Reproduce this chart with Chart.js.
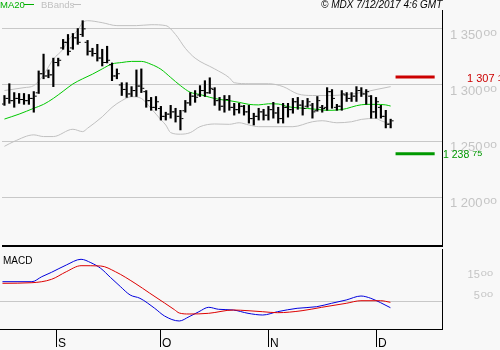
<!DOCTYPE html>
<html>
<head>
<meta charset="utf-8">
<title>MDX daily chart</title>
<script src="https://cdn.jsdelivr.net/npm/chart.js@4.4.1/dist/chart.umd.min.js"></script>
<style>
	html, body { margin: 0; padding: 0; background: #f8f8f8; }
	#mdx-chart { position: relative; width: 500px; height: 350px; overflow: hidden; background: #f8f8f8; }
	#mdx-chart canvas { position: absolute; left: 0; }
	#mdx-price { top: 0; }
	#mdx-macd { top: 249px; }
</style>
</head>
<body>
<div id="mdx-chart">
	<canvas id="mdx-price" width="500" height="249"></canvas>
	<canvas id="mdx-macd" width="500" height="101"></canvas>
</div>
<script>
/**
 * Daily OHLC chart with MA20, Bollinger bands and MACD.
 * One entry per session, 17 Aug 2017 -> 6 Dec 2017.
 */
var highs = [
	1.2906, 1.3011, 1.2932, 1.2924, 1.2924, 1.2915, 1.2941, 1.3125, 1.3275, 1.3134,
	1.3239, 1.3239, 1.3406, 1.3450, 1.3459, 1.3503, 1.3573, 1.3397, 1.3327, 1.3362,
	1.3318, 1.3345, 1.3196, 1.3143, 1.3020, 1.3020, 1.2985, 1.3134, 1.3143, 1.2950,
	1.2889, 1.2897, 1.2809, 1.2757, 1.2818, 1.2792, 1.2774, 1.2862, 1.2932, 1.2950,
	1.2994, 1.3038, 1.3064, 1.2976, 1.2889, 1.2906, 1.2906, 1.2836, 1.2836, 1.2818,
	1.2818, 1.2748, 1.2792, 1.2783, 1.2809, 1.2845, 1.2801, 1.2836, 1.2836, 1.2880,
	1.2889, 1.2862, 1.2880, 1.2836, 1.2897, 1.2818, 1.2976, 1.2959, 1.2827, 1.2950,
	1.2932, 1.2932, 1.2985, 1.2976, 1.2959, 1.2906, 1.2889, 1.2818, 1.2774, 1.2695
];
var lows = [
	1.2818, 1.2836, 1.2801, 1.2836, 1.2827, 1.2827, 1.2757, 1.2924, 1.3055, 1.3064,
	1.2985, 1.3169, 1.3318, 1.3266, 1.3318, 1.3362, 1.3432, 1.3266, 1.3257, 1.3213,
	1.3169, 1.3196, 1.3038, 1.3055, 1.2906, 1.2889, 1.2897, 1.2897, 1.2932, 1.2801,
	1.2774, 1.2774, 1.2687, 1.2687, 1.2704, 1.2669, 1.2599, 1.2757, 1.2818, 1.2845,
	1.2897, 1.2897, 1.2924, 1.2818, 1.2774, 1.2757, 1.2774, 1.2731, 1.2748, 1.2731,
	1.2660, 1.2643, 1.2687, 1.2687, 1.2687, 1.2704, 1.2660, 1.2660, 1.2713, 1.2748,
	1.2783, 1.2731, 1.2801, 1.2704, 1.2766, 1.2757, 1.2774, 1.2792, 1.2774, 1.2774,
	1.2853, 1.2853, 1.2853, 1.2897, 1.2827, 1.2704, 1.2704, 1.2704, 1.2617, 1.2617
];
var opens = [
	1.2830, 1.2880, 1.2860, 1.2880, 1.2870, 1.2860, 1.2880, 1.2930, 1.3100, 1.3080,
	1.3090, 1.3200, 1.3330, 1.3380, 1.3330, 1.3420, 1.3450, 1.3380, 1.3300, 1.3280,
	1.3240, 1.3200, 1.3180, 1.3080, 1.3000, 1.2960, 1.2920, 1.2950, 1.2990, 1.2940,
	1.2860, 1.2800, 1.2790, 1.2720, 1.2740, 1.2760, 1.2720, 1.2770, 1.2840, 1.2900,
	1.2910, 1.2950, 1.2930, 1.2960, 1.2860, 1.2810, 1.2870, 1.2800, 1.2780, 1.2810,
	1.2760, 1.2700, 1.2720, 1.2760, 1.2730, 1.2780, 1.2750, 1.2700, 1.2800, 1.2780,
	1.2850, 1.2820, 1.2810, 1.2820, 1.2770, 1.2800, 1.2800, 1.2940, 1.2800, 1.2810,
	1.2910, 1.2880, 1.2900, 1.2950, 1.2920, 1.2900, 1.2760, 1.2800, 1.2720, 1.2650
];
var closes = [
	1.2880, 1.2860, 1.2880, 1.2870, 1.2860, 1.2880, 1.2900, 1.3100, 1.3080, 1.3090,
	1.3200, 1.3220, 1.3380, 1.3300, 1.3420, 1.3380, 1.3500, 1.3300, 1.3280, 1.3240,
	1.3200, 1.3220, 1.3080, 1.3100, 1.2960, 1.2920, 1.2950, 1.2990, 1.2970, 1.2860,
	1.2800, 1.2850, 1.2720, 1.2740, 1.2760, 1.2720, 1.2700, 1.2840, 1.2900, 1.2890,
	1.2950, 1.2930, 1.2970, 1.2860, 1.2810, 1.2870, 1.2800, 1.2780, 1.2810, 1.2760,
	1.2700, 1.2720, 1.2760, 1.2730, 1.2780, 1.2750, 1.2700, 1.2800, 1.2780, 1.2850,
	1.2820, 1.2790, 1.2850, 1.2760, 1.2860, 1.2790, 1.2940, 1.2880, 1.2810, 1.2920,
	1.2880, 1.2900, 1.2950, 1.2920, 1.2940, 1.2760, 1.2850, 1.2720, 1.2650, 1.2680
];

// [session, value] pairs
var ma20 = [
	[0, 1.2696], [3, 1.2740], [6, 1.2792], [8, 1.2827], [10, 1.2880], [12, 1.2944],
	[14, 1.3009], [16, 1.3055], [18, 1.3096], [20, 1.3143], [22, 1.3187], [24, 1.3200],
	[26, 1.3210], [28, 1.3210], [30, 1.3184], [32, 1.3140], [34, 1.3067], [36, 1.2994],
	[38, 1.2935], [40, 1.2915], [42, 1.2890], [44, 1.2871], [46, 1.2860], [48, 1.2845],
	[50, 1.2827], [52, 1.2822], [54, 1.2832], [56, 1.2830], [58, 1.2806], [60, 1.2796],
	[62, 1.2790], [64, 1.2782], [66, 1.2774], [68, 1.2776], [70, 1.2790], [72, 1.2815],
	[74, 1.2827], [76, 1.2827], [78, 1.2822], [79, 1.2812]
];
var upperBand = [
	[0, 1.2950], [4, 1.2976], [6, 1.2994], [8, 1.3090], [10, 1.3230], [12, 1.3320],
	[13, 1.3395], [15, 1.3490], [16, 1.3555], [17, 1.3573], [20, 1.3555], [23, 1.3529],
	[27, 1.3529], [30, 1.3537], [33, 1.3529], [35, 1.3450], [37, 1.3327], [39, 1.3239],
	[43, 1.3143], [46, 1.3064], [47, 1.3020], [50, 1.3011], [54, 1.3011], [57, 1.2985],
	[60, 1.2920], [63, 1.2906], [67, 1.2906], [70, 1.2915], [73, 1.2932], [76, 1.2959],
	[79, 1.2985]
];
var lowerBand = [
	[0, 1.2453], [2, 1.2497], [6, 1.2555], [8, 1.2540], [10, 1.2540], [14, 1.2605],
	[16, 1.2584], [17, 1.2614], [20, 1.2716], [22, 1.2800], [24, 1.2860], [26, 1.2895],
	[28, 1.2880], [30, 1.2790], [32, 1.2690], [33, 1.2643], [34, 1.2575], [36, 1.2561],
	[38, 1.2575], [40, 1.2628], [43, 1.2652], [46, 1.2649], [48, 1.2663], [50, 1.2643],
	[52, 1.2628], [57, 1.2628], [59, 1.2628], [63, 1.2672], [65, 1.2681], [68, 1.2663],
	[71, 1.2672], [73, 1.2693], [76, 1.2702], [77, 1.2681], [79, 1.2652]
];
var macdLine = [
	[0, 919], [6, 919], [8, 1157], [10, 1367], [13, 1714], [16, 1986], [18, 1824],
	[20, 1557], [22, 1120], [24, 690], [26, 286], [28, 129], [31, -348], [33, -714],
	[36, -952], [38, -748], [40, -510], [42, -300], [44, -395], [47, -429], [50, -586],
	[53, -667], [56, -510], [60, -348], [64, -271], [67, -110], [70, 48], [73, 238],
	[75, 129], [77, -81], [79, -319]
];
var signalLine = [
	[0, 843], [6, 871], [10, 1033], [13, 1395], [16, 1681], [20, 1667], [23, 1395],
	[27, 843], [30, 371], [33, -95], [35, -410], [36, -571], [38, -619], [42, -586],
	[47, -429], [50, -462], [53, -510], [56, -557], [61, -462], [65, -300], [70, -110],
	[73, 14], [77, 14], [79, -62]
];

var priceTicks = [1.20, 1.25, 1.30, 1.35];
var macdTicks = [500, 1500];
var monthLabels = ['S', 'O', 'N', 'D'];
var monthStarts = [11, 32, 54, 76];
var resistance = 1.3071;
var support = 1.23875;

var FONT = '"Liberation Sans", Arial, sans-serif';

/**
 * Split a price into its big digits and the small raised tail.
 */
function splitPrice(value) {
	var s = value.toFixed(5);
	return { main: s.slice(0, 5).replace('.', ' '), sup: s.slice(5) };
}

/**
 * Draw "main" + raised, squashed "sup" text.
 */
function drawLabel(ctx, parts, x, baseline, opts) {
	var gap = opts.gap || 1;
	ctx.font = opts.size + 'px ' + FONT;
	var mainW = ctx.measureText(parts.main).width;
	ctx.font = opts.supSize + 'px ' + FONT;
	var supW = ctx.measureText(parts.sup).width;
	var left = opts.align === 'right' ? x - mainW - gap - supW : x;

	ctx.fillStyle = opts.color;
	ctx.textAlign = 'left';
	ctx.textBaseline = 'alphabetic';
	ctx.font = opts.size + 'px ' + FONT;
	ctx.fillText(parts.main, left, baseline);

	ctx.save();
	ctx.translate(left + mainW + gap, baseline - opts.size * 0.72);
	ctx.scale(1, opts.squash);
	ctx.font = opts.supSize + 'px ' + FONT;
	ctx.fillText(parts.sup, 0, opts.supSize * 0.72);
	ctx.restore();
}

function toPoints(pairs) {
	return pairs.map(function(p) {
		return { x: p[0], y: p[1] };
	});
}

var mdxChart = {
	priceChart: null,
	macdChart: null,
	xMin: -0.5,
	xMax: 89.5,
	levelSpan: [80, 88],
	tickShift: 0.4,

	/**
	 * Initialize both panels.
	 */
	init: function() {
		Chart.defaults.font.family = FONT;
		this.renderPriceChart();
		this.renderMacdChart();
	},

	/**
	 * Price panel: bars, MA20, bands, levels.
	 */
	renderPriceChart: function() {
		var self = this;
		var ctx = document.getElementById('mdx-price').getContext('2d');
		var sessions = highs.map(function(v, i) { return i; });

		var decor = {
			id: 'priceDecor',
			afterDraw: function(chart) {
				var c = chart.ctx;
				var area = chart.chartArea;
				var yScale = chart.scales.y;

				c.save();
				c.fillStyle = '#000';
				c.fillRect(area.right, 10, 1, area.bottom - 10);
				c.fillRect(area.left, area.bottom - 2, area.right - area.left + 1, 2);

				// Price scale
				priceTicks.forEach(function(v) {
					drawLabel(c, splitPrice(v), area.right + 8, yScale.getPixelForValue(v) + 10, {
						size: 13, supSize: 12, squash: 0.7, color: '#c4c4c4'
					});
				});

				// Level tags
				drawLabel(c, splitPrice(resistance), 467, yScale.getPixelForValue(resistance) + 5, {
					size: 11, supSize: 10, squash: 0.9, gap: 3, color: '#cc0000'
				});
				drawLabel(c, splitPrice(support), area.right + 1, yScale.getPixelForValue(support) + 4.5, {
					size: 10.5, supSize: 9, squash: 0.85, gap: 3, color: '#009900'
				});

				// Legend
				c.textAlign = 'left';
				c.textBaseline = 'alphabetic';
				c.font = '9.5px ' + FONT;
				c.fillStyle = '#00b000';
				c.fillText('MA20', 0, 8);
				c.fillRect(24, 4, 10, 1);
				c.fillStyle = '#c0c0c0';
				c.fillText('BBands', 41, 8);
				c.fillRect(73, 4, 8, 1);

				c.font = 'italic 10px ' + FONT;
				c.fillStyle = '#000';
				c.fillText('\u00a9 MDX 7/12/2017 4:6 GMT', 321, 8);
				c.restore();
			}
		};

		var lineStyle = function(color, width) {
			return {
				type: 'line',
				borderColor: color,
				borderWidth: width,
				pointRadius: 0,
				cubicInterpolationMode: 'monotone',
				order: 2
			};
		};

		var tickSet = function(values, shift) {
			return {
				type: 'line',
				data: sessions.map(function(i) { return { x: i + shift, y: values[i] }; }),
				showLine: false,
				pointStyle: 'line',
				pointRadius: 1,
				pointHoverRadius: 1,
				pointBorderWidth: 1,
				pointBorderColor: '#000',
				order: 0
			};
		};

		this.priceChart = new Chart(ctx, {
			type: 'bar',
			data: {
				datasets: [
					{
						type: 'bar',
						label: 'Range',
						data: sessions.map(function(i) { return { x: i, y: [lows[i], highs[i]] }; }),
						backgroundColor: '#000',
						borderWidth: 0,
						borderSkipped: false,
						barThickness: 1.5,
						grouped: false,
						order: 0
					},
					Object.assign({ label: 'Open' }, tickSet(opens, -self.tickShift)),
					Object.assign({ label: 'Close' }, tickSet(closes, self.tickShift)),
					Object.assign({ label: 'MA20', data: toPoints(ma20) }, lineStyle('#00c800', 1)),
					Object.assign({ label: 'Upper band', data: toPoints(upperBand) }, lineStyle('#c0c0c0', 1)),
					Object.assign({ label: 'Lower band', data: toPoints(lowerBand) }, lineStyle('#c0c0c0', 1)),
					Object.assign({
						label: 'Resistance',
						data: self.levelSpan.map(function(x) { return { x: x, y: resistance }; })
					}, lineStyle('#cc0000', 3)),
					Object.assign({
						label: 'Support',
						data: self.levelSpan.map(function(x) { return { x: x, y: support }; })
					}, lineStyle('#009900', 3))
				]
			},
			options: {
				responsive: false,
				animation: false,
				devicePixelRatio: 1,
				events: [],
				layout: {
					padding: { left: 0, top: 0, right: 58, bottom: 0 }
				},
				plugins: {
					legend: { display: false },
					tooltip: { enabled: false }
				},
				scales: {
					x: {
						type: 'linear',
						min: self.xMin,
						max: self.xMax,
						offset: false,
						display: false
					},
					y: {
						type: 'linear',
						position: 'right',
						min: 1.15553,
						max: 1.37395,
						grid: {
							color: '#c8c8c8',
							drawTicks: false
						},
						border: { display: false },
						ticks: { display: false },
						afterBuildTicks: function(scale) {
							scale.ticks = priceTicks.map(function(v) { return { value: v }; });
						}
					}
				}
			},
			plugins: [decor]
		});
	},

	/**
	 * MACD panel with month axis.
	 */
	renderMacdChart: function() {
		var self = this;
		var ctx = document.getElementById('mdx-macd').getContext('2d');

		var decor = {
			id: 'macdDecor',
			afterDraw: function(chart) {
				var c = chart.ctx;
				var area = chart.chartArea;
				var xScale = chart.scales.x;
				var yScale = chart.scales.y;

				c.save();
				c.fillStyle = '#000';
				c.fillRect(area.right, area.top, 1, area.bottom - area.top + 1);
				c.fillRect(area.left, area.bottom, area.right - area.left + 1, 1);

				// Month ticks
				c.font = '12px ' + FONT;
				c.textAlign = 'left';
				c.textBaseline = 'alphabetic';
				monthStarts.forEach(function(idx, k) {
					var px = Math.round(xScale.getPixelForValue(idx));
					c.fillRect(px, area.bottom, 1, 18);
					c.fillText(monthLabels[k], px + 2, area.bottom + 18);
				});

				c.font = '10px ' + FONT;
				c.fillText('MACD', 3, 15);

				macdTicks.forEach(function(v) {
					drawLabel(c, { main: String(v / 100), sup: '00' }, 493, yScale.getPixelForValue(v) + 8.5, {
						size: 11, supSize: 11, squash: 0.72, color: '#c4c4c4', align: 'right'
					});
				});
				c.restore();
			}
		};

		this.macdChart = new Chart(ctx, {
			type: 'line',
			data: {
				datasets: [
					{
						label: 'Signal',
						data: toPoints(signalLine),
						borderColor: '#dd0000',
						borderWidth: 1,
						pointRadius: 0,
						cubicInterpolationMode: 'monotone'
					},
					{
						label: 'MACD',
						data: toPoints(macdLine),
						borderColor: '#0000dd',
						borderWidth: 1,
						pointRadius: 0,
						cubicInterpolationMode: 'monotone'
					}
				]
			},
			options: {
				responsive: false,
				animation: false,
				devicePixelRatio: 1,
				events: [],
				layout: {
					padding: { left: 0, top: 0, right: 58, bottom: 21 }
				},
				plugins: {
					legend: { display: false },
					tooltip: { enabled: false }
				},
				scales: {
					x: {
						type: 'linear',
						min: self.xMin,
						max: self.xMax,
						display: false
					},
					y: {
						type: 'linear',
						position: 'right',
						min: -1333.3,
						max: 2476.2,
						grid: {
							color: '#c8c8c8',
							drawTicks: false
						},
						border: { display: false },
						ticks: { display: false },
						afterBuildTicks: function(scale) {
							scale.ticks = [{ value: 0 }];
						}
					}
				}
			},
			plugins: [decor]
		});
	}
};

mdxChart.init();
window.mdxChart = mdxChart;
</script>
</body>
</html>
